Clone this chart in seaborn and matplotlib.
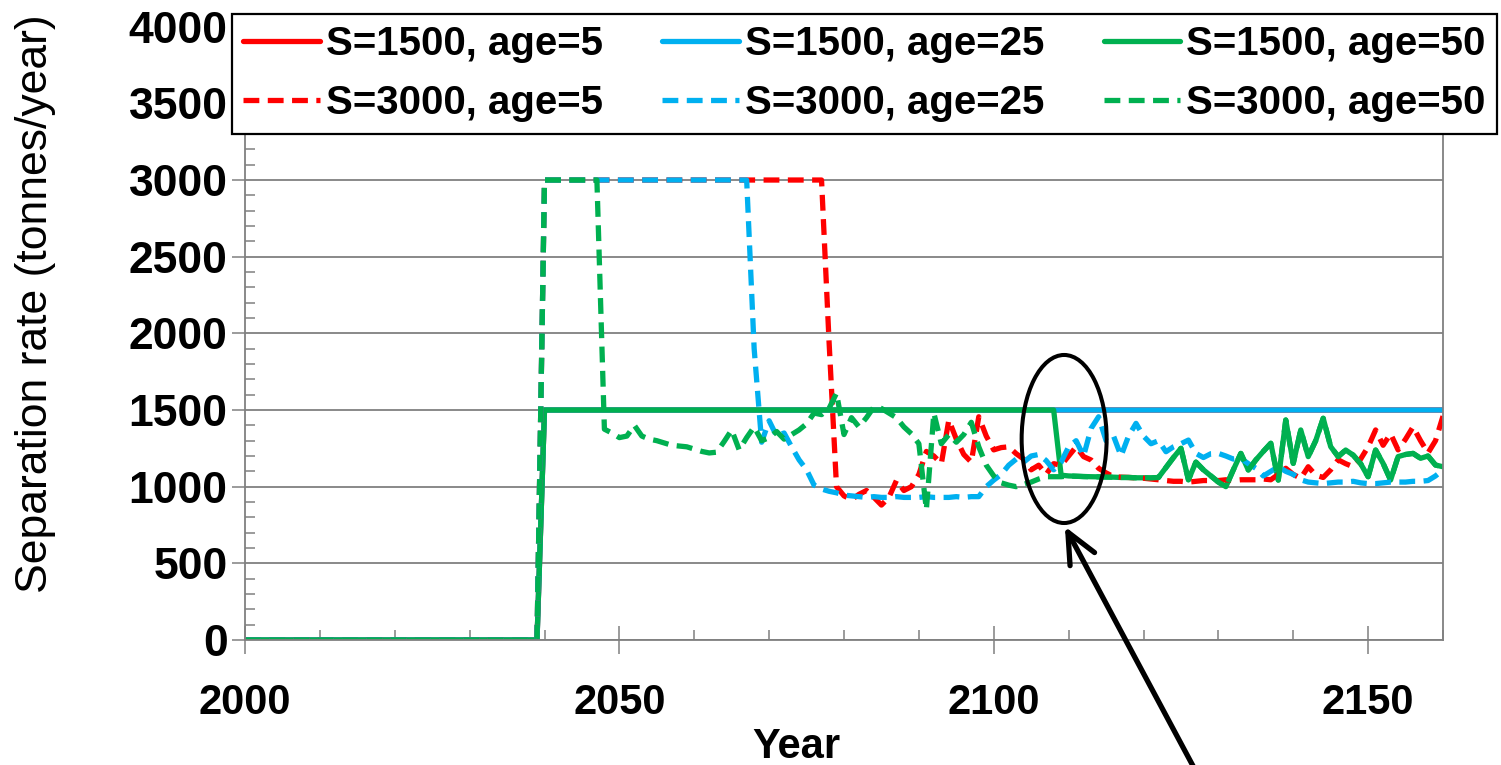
import matplotlib
matplotlib.use("Agg")
import matplotlib.pyplot as plt
import numpy as np
import pandas as pd
import seaborn as sns
from matplotlib.patches import Ellipse
from matplotlib.ticker import MultipleLocator

# ---- data -------------------------------------------------------------
years = list(range(2000, 2161))

labels = ["S=1500, age=5", "S=1500, age=25", "S=1500, age=50",
          "S=3000, age=5", "S=3000, age=25", "S=3000, age=50"]

# S=1500 runs: capacity-limited at 1500 from 2040 onwards
s1500_age5 = [0] * 40 + [1500] * 121
s1500_age25 = [0] * 40 + [1500] * 121
s1500_age50 = ([0] * 40 + [1500] * 69 + [1075]
               + [1070, 1068, 1066, 1065, 1064, 1063, 1062, 1060, 1060, 1058]
               + [1058, 1057, 1060, 1125, 1190, 1250, 1045, 1160, 1110, 1070]
               + [1030, 1000, 1110, 1217, 1109, 1174, 1230, 1283, 1043, 1435]
               + [1152, 1370, 1196, 1300, 1446, 1261, 1196, 1239, 1206, 1150]
               + [1065, 1239, 1152, 1043, 1196, 1210, 1217, 1185, 1200, 1141, 1130])

# S=3000 runs
s3000_age5 = ([0] * 40 + [3000] * 38 + [1950, 1000]
              + [940, 915, 950, 975, 930, 880, 930, 1040, 975, 1000]
              + [1080, 1230, 1200, 1150, 1435, 1310, 1210, 1160, 1456, 1330]
              + [1240, 1255, 1260, 1215, 1180, 1110, 1140, 1080, 1150, 1140]
              + [1200, 1260, 1196, 1174, 1120, 1090, 1065, 1062, 1060, 1058]
              + [1055, 1050, 1045, 1040, 1035, 1035, 1030, 1035, 1040, 1040]
              + [1040, 1045, 1040, 1045, 1045, 1045, 1050, 1045, 1080, 1120]
              + [1080, 1055, 1130, 1075, 1060, 1110, 1175, 1150, 1130, 1180]
              + [1260, 1370, 1270, 1345, 1240, 1310, 1390, 1300, 1220, 1300, 1460])

s3000_age25 = ([0] * 40 + [3000] * 28 + [1900, 1290]
               + [1430, 1330, 1350, 1260, 1175, 1110, 1010, 985, 970, 960]
               + [945, 940, 935, 930, 935, 930, 930, 935, 930, 930]
               + [930, 935, 930, 930, 930, 935, 930, 935, 935, 1000]
               + [1043, 1080, 1140, 1180, 1160, 1200, 1210, 1170, 1110, 1160]
               + [1260, 1300, 1200, 1380, 1456, 1300, 1330, 1200, 1330, 1413]
               + [1330, 1280, 1300, 1228, 1260, 1280, 1304, 1217, 1190, 1215]
               + [1217, 1200, 1180, 1185, 1150, 1120, 1070, 1100, 1130, 1100]
               + [1080, 1045, 1030, 1025, 1020, 1025, 1030, 1030, 1035, 1025]
               + [1020, 1020, 1025, 1030, 1030, 1030, 1035, 1035, 1040, 1070, 1110])

s3000_age50 = ([0] * 40 + [3000] * 8 + [1375, 1350]
               + [1320, 1330, 1400, 1330, 1310, 1300, 1285, 1270, 1265, 1260]
               + [1245, 1230, 1220, 1225, 1295, 1370, 1240, 1320, 1390, 1300]
               + [1320, 1360, 1310, 1340, 1370, 1410, 1480, 1470, 1510, 1610]
               + [1340, 1450, 1390, 1450, 1520, 1510, 1480, 1450, 1390, 1345]
               + [1280, 850, 1480, 1280, 1340, 1290, 1340, 1420, 1260, 1140]
               + [1070, 1025, 1010, 1000, 1015, 1030, 1050, 1065, 1065, 1065]
               + s1500_age50[110:])

values = [s1500_age5, s1500_age25, s1500_age50, s3000_age5, s3000_age25, s3000_age50]

colors = ["#FF0000", "#00B0F0", "#00B050", "#FF0000", "#00B0F0", "#00B050"]
styles = ["-", "-", "-", (0, (3.0, 1.6)), (0, (3.0, 1.6)), (0, (3.0, 1.6))]

df = pd.concat(
    [pd.DataFrame({"Year": years, "rate": v, "series": lab}) for lab, v in zip(labels, values)],
    ignore_index=True,
)

# ---- style --------------------------------------------------------------
sns.set_style("white")
plt.rcParams["font.family"] = ["Liberation Sans", "DejaVu Sans"]
plt.rcParams["font.weight"] = "bold"
plt.rcParams["text.color"] = "black"
plt.rcParams["axes.labelcolor"] = "black"

fig = plt.figure(figsize=(15.01, 7.65), dpi=100)
ax = fig.add_axes([245 / 1501, 125 / 765, 1198 / 1501, 613.3 / 765])

for lab, col, ls in zip(labels, colors, styles):
    sns.lineplot(data=df[df["series"] == lab], x="Year", y="rate", color=col,
                 linestyle=ls, linewidth=3.8, ax=ax, legend=False,
                 errorbar=None, sort=False)

ax.set_xlim(2000, 2160)
ax.set_ylim(0, 4000)
ax.xaxis.set_major_locator(MultipleLocator(50))
ax.xaxis.set_minor_locator(MultipleLocator(10))
ax.yaxis.set_major_locator(MultipleLocator(500))
ax.yaxis.set_minor_locator(MultipleLocator(100))

grey = "#808080"
ax.yaxis.grid(True, which="major", color=grey, linewidth=1.3)
ax.xaxis.grid(False)
ax.set_axisbelow(True)
for sp in ax.spines.values():
    sp.set_color(grey)
    sp.set_linewidth(1.3)

ax.tick_params(axis="x", which="major", direction="inout", length=20, width=1.1,
               color=grey, labelcolor="black", labelsize=30, pad=21)
ax.tick_params(axis="x", which="minor", direction="in", length=7, width=1.1, color=grey)
ax.tick_params(axis="y", which="major", direction="out", length=9.5, width=1.1,
               color=grey, labelcolor="black", labelsize=32, pad=3)
ax.tick_params(axis="y", which="minor", direction="in", length=7, width=1.1, color=grey)
ax.tick_params(bottom=True, left=True, which="both")

ax.set_xlabel("Year", fontsize=30, fontweight="bold")
ax.xaxis.set_label_coords(0.46, -0.142)
ax.set_ylabel("Separation rate (tonnes/year)", fontsize=32, fontweight="normal")
ax.yaxis.set_label_coords(-0.158, 0.548)

# highlight of the age=50 drop and pointer arrow
ax.add_patch(Ellipse((2109.4, 1311), width=11.35, height=1096, fill=False,
                     edgecolor="black", linewidth=2.9, zorder=6))
ax.annotate("", xy=(2109.5, 740), xytext=(2127.8, -930),
            arrowprops=dict(arrowstyle="->,head_length=1.1,head_width=0.5",
                            lw=3.8, color="black", mutation_scale=20,
                            shrinkA=0, shrinkB=0),
            annotation_clip=False, zorder=6)

# legend: solid runs on the first row, dashed runs on the second
lines = ax.get_lines()
order = [0, 3, 1, 4, 2, 5]
leg = fig.legend([lines[i] for i in order], [labels[i] for i in order],
                 ncol=3, loc="upper left", mode="expand",
                 bbox_to_anchor=(232 / 1501, (765 - 132) / 765, (1497 - 232) / 1501, 118 / 765),
                 frameon=True, fancybox=False, framealpha=1, edgecolor="black",
                 prop={"size": 29, "weight": "bold"}, handlelength=1.9,
                 handletextpad=0.15, columnspacing=0.6, borderpad=0.28,
                 labelspacing=0.52, borderaxespad=0)
leg.get_frame().set_linewidth(1.6)

fig.savefig("out.png", dpi=100, facecolor="white")
